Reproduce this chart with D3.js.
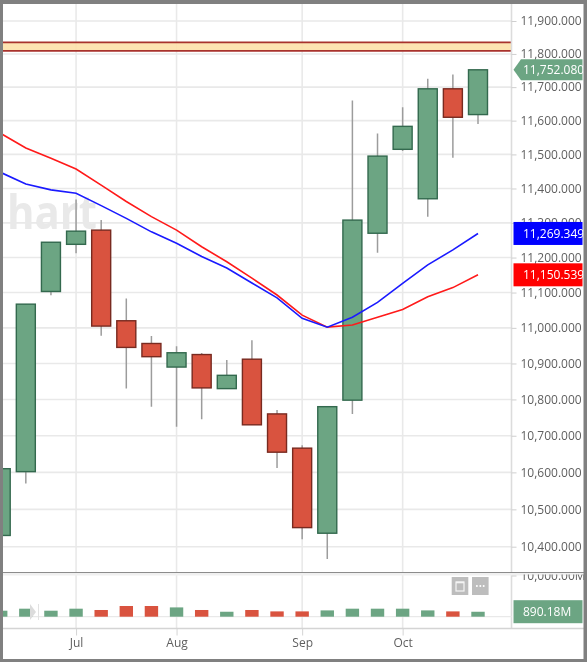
<!DOCTYPE html>
<html><head><meta charset="utf-8">
<script src="https://cdnjs.cloudflare.com/ajax/libs/d3/7.8.5/d3.min.js"></script>
<style>
html,body{margin:0;padding:0;background:#fff;overflow:hidden}
svg{display:block;filter:blur(0.4px)}
text{font-family:"Open Sans",sans-serif}
</style></head><body>
<svg id="c" width="587" height="662"></svg>
<script>
// ---- data ----
const opens  = [10430,10602,11103,11238,11279,11020,10956,10890,10925,10830,10912,10760,10666,10436,10798,11270,11515,11370,11695,11618];
const closes = [10610,11067,11244,11276,11005,10945,10919,10930,10832,10867,10730,10655,10451,10780,11308,11495,11583,11695,11610,11752.08];
const highs  = [10610,11067,11244,11368,11308,11083,10977,10948,10929,10910,10965,10771,10674,10780,11660,11562,11640,11725,11738,11752.08];
const lows   = [10430,10570,11092,11212,10978,10830,10780,10725,10745,10830,10730,10612,10420,10367,10760,11214,11510,11318,11490,11590];
const redAvg  = [11562,11519,11489,11457,11410,11362,11318,11279,11231,11188,11141,11093,11036,11002,11008,11030,11052,11088,11114,11150.539];
const blueAvg = [11447,11413,11396,11386,11350,11313,11274,11241,11203,11170,11127,11085,11027,11002,11030,11072,11126,11179,11222,11269.349];
const volumes = [955,1092,955,1092,1001,1307,1307,1190,1001,891,1001,912,912,975,1092,1092,1092,975,912,890.18];
const priceTicks = [10400,10500,10600,10700,10800,10900,11000,11100,11200,11300,11400,11500,11600,11700,11800,11900];
const monthIndex = [3,7,12,16];
const monthLabels = ["Jul","Aug","Sep","Oct"];
const zoneBand = [11809,11835];
const volumeTicks = [10000];

const GREEN="#6ca583",GREEN_D="#33694e",RED="#d9533f",RED_D="#782a20",GRID="#e9e9e9",TXT="#5f5f5f";
const L=3,R=511.5,T=4,B=572.5,VB=628.5,W=587,H=662;
const svg=d3.select("#c");
const x=d3.scaleLinear().domain([0,19]).range([0.7,478]);
const y=d3.scaleLog().domain([11900,10400]).range([21,546.7]);
const v=d3.scaleLog().domain([640,10000]).range([616.7,575.5]);

const defs=svg.append("defs");
defs.append("clipPath").attr("id","plot").append("rect").attr("x",L).attr("y",T).attr("width",R-L).attr("height",B-T);
defs.append("clipPath").attr("id","vol").append("rect").attr("x",L).attr("y",B).attr("width",R-L).attr("height",VB-B);
defs.append("clipPath").attr("id","axv").append("rect").attr("x",R).attr("y",B+2).attr("width",W-R).attr("height",VB-B);

// grids
const grid=svg.append("g");
grid.selectAll(".h").data(priceTicks).join("line")
  .attr("x1",L).attr("x2",R).attr("y1",d=>y(d)).attr("y2",d=>y(d))
  .attr("stroke",GRID).attr("stroke-width",1.6);
grid.selectAll(".v").data(monthIndex).join("line")
  .attr("x1",d=>x(d)).attr("x2",d=>x(d)).attr("y1",T).attr("y2",VB)
  .attr("stroke",GRID).attr("stroke-width",1.6);

// watermark
svg.append("text").attr("x",7).attr("y",229).text("hart")
  .attr("font-size",46).attr("font-weight",700).attr("fill","#e9e9e9")
  .attr("textLength",90).attr("lengthAdjust","spacingAndGlyphs").attr("clip-path","url(#plot)");

// zone band
const band=svg.append("g").attr("clip-path","url(#plot)");
band.append("rect").attr("x",L).attr("width",R-L).attr("y",y(zoneBand[1])).attr("height",y(zoneBand[0])-y(zoneBand[1]))
  .attr("fill","#fde0a8").attr("fill-opacity",.9);
band.selectAll(".b").data(zoneBand).join("line")
  .attr("x1",L).attr("x2",R).attr("y1",d=>y(d)).attr("y2",d=>y(d))
  .attr("stroke","#a8322c").attr("stroke-width",1.7);

// candles
const idx=d3.range(opens.length);
const plot=svg.append("g").attr("clip-path","url(#plot)");
plot.selectAll(".wick").data(idx).join("line")
  .attr("x1",i=>x(i)).attr("x2",i=>x(i)).attr("y1",i=>y(highs[i])).attr("y2",i=>y(lows[i]))
  .attr("stroke","#9c9c9c").attr("stroke-width",1.5);
plot.selectAll(".body").data(idx).join("rect")
  .attr("x",i=>x(i)-9.5).attr("width",19)
  .attr("y",i=>y(Math.max(opens[i],closes[i])))
  .attr("height",i=>Math.abs(y(opens[i])-y(closes[i])))
  .attr("fill",i=>closes[i]>=opens[i]?GREEN:RED)
  .attr("stroke",i=>closes[i]>=opens[i]?GREEN_D:RED_D).attr("stroke-width",1.4);

// moving averages
const line=s=>d3.line().x((d,i)=>x(i)).y(d=>y(d))(s);
plot.append("path").attr("d",line(redAvg)).attr("fill","none").attr("stroke","#ff1a1a").attr("stroke-width",1.6);
plot.append("path").attr("d",line(blueAvg)).attr("fill","none").attr("stroke","#1a1aff").attr("stroke-width",1.6);

// right edge + panel separators
svg.append("line").attr("x1",R).attr("x2",R).attr("y1",T).attr("y2",VB).attr("stroke","#dcdcdc").attr("stroke-width",1.6);
svg.append("rect").attr("x",L).attr("y",B).attr("width",W-L).attr("height",3).attr("fill","#f0f0f0");
svg.append("line").attr("x1",L).attr("x2",W).attr("y1",B).attr("y2",B).attr("stroke","#8c8c8c").attr("stroke-width",1);
svg.append("line").attr("x1",L).attr("x2",W).attr("y1",VB).attr("y2",VB).attr("stroke","#d4d4d4").attr("stroke-width",1.3);
svg.append("line").attr("x1",L).attr("x2",R).attr("y1",v(640)).attr("y2",v(640)).attr("stroke","#e9e9e9").attr("stroke-width",1.3);

// price axis
const ay=svg.append("g").attr("transform",`translate(${R},0)`)
  .call(d3.axisRight(y).tickValues(priceTicks).tickFormat(d3.format(",.3f")).tickSize(5).tickPadding(4));
ay.select(".domain").remove();
ay.selectAll("line").attr("stroke","#cfcfcf");
ay.selectAll("text").attr("fill",TXT).attr("font-size",12).attr("font-family",'"Open Sans",sans-serif');

// volume axis
const av=svg.append("g").attr("clip-path","url(#axv)").append("g").attr("transform",`translate(${R},0)`)
  .call(d3.axisRight(v).tickValues(volumeTicks).tickFormat(d=>d3.format(",.2f")(d)+"M").tickSize(5).tickPadding(4));
av.select(".domain").remove();
av.selectAll("line").attr("stroke","#cfcfcf");
av.selectAll("text").attr("fill",TXT).attr("font-size",12).attr("font-family",'"Open Sans",sans-serif');

// volume bars
const vol=svg.append("g").attr("clip-path","url(#vol)");
vol.selectAll("rect").data(idx).join("rect")
  .attr("x",i=>x(i)-6.7).attr("width",13.4)
  .attr("y",i=>v(volumes[i])).attr("height",i=>v(640)-v(volumes[i]))
  .attr("fill",i=>closes[i]>=opens[i]?GREEN:RED);

// scroll marker
svg.append("path").attr("d","M30 604 L36 612 L30 620 Z").attr("fill","#dcdcdc");
svg.append("line").attr("x1",38.5).attr("x2",38.5).attr("y1",604).attr("y2",620).attr("stroke","#e2e2e2");

// pane buttons
const btn=svg.append("g");
btn.append("rect").attr("x",451.7).attr("y",577).attr("width",16.6).attr("height",18).attr("fill","#bdbdbd");
btn.append("rect").attr("x",472).attr("y",577).attr("width",16.6).attr("height",18).attr("fill","#bdbdbd");
btn.append("rect").attr("x",456).attr("y",582).attr("width",8).attr("height",9).attr("fill","none").attr("stroke","#f4f4f4").attr("stroke-width",1.2);
btn.append("line").attr("x1",456).attr("x2",464).attr("y1",582.5).attr("y2",582.5).attr("stroke","#f4f4f4").attr("stroke-width",1.6);
btn.selectAll(".d").data([-3.4,0,3.4]).join("circle").attr("cx",d=>480.3+d).attr("cy",586).attr("r",1).attr("fill","#fff");

// time axis
const ax=svg.append("g").attr("transform",`translate(0,${VB})`)
  .call(d3.axisBottom(x).tickValues(monthIndex).tickFormat((d,i)=>monthLabels[i]).tickSize(7).tickPadding(3));
ax.select(".domain").remove();
ax.selectAll("line").attr("stroke","#d4d4d4");
ax.selectAll("text").attr("fill",TXT).attr("font-size",12).attr("font-family",'"Open Sans",sans-serif');

// value flags
const lab=(yc,h,c,t)=>{
  svg.append("rect").attr("x",513.5).attr("y",yc-h/2).attr("width",69).attr("height",h).attr("fill",c);
  svg.append("text").attr("x",523).attr("y",yc+4.4).attr("fill","#fff").attr("font-size",12).text(t);
};
const fy=y(closes[19]);
svg.append("path").attr("d",`M513.5 ${fy} L521 ${fy-10.5} H582.5 V${fy+10.5} H521 Z`).attr("fill",GREEN);
svg.append("text").attr("x",523).attr("y",fy+4.4).attr("fill","#fff").attr("font-size",12).text(d3.format(",.3f")(closes[19]));
lab(y(blueAvg[19]),23,"#0000ff",d3.format(",.3f")(blueAvg[19]));
lab(y(redAvg[19]),23,"#ff0000",d3.format(",.3f")(redAvg[19]));
lab(611.7,23,GREEN,d3.format(".2f")(volumes[19])+"M");

// window frame
const fr=svg.append("g").attr("fill","#808080");
fr.append("rect").attr("x",0).attr("y",0).attr("width",W).attr("height",T);
fr.append("rect").attr("x",0).attr("y",0).attr("width",L).attr("height",H);
fr.append("rect").attr("x",0).attr("y",H-3).attr("width",W).attr("height",3);
fr.append("rect").attr("x",W-3.5).attr("y",0).attr("width",3.5).attr("height",H);
</script>
</body></html>
